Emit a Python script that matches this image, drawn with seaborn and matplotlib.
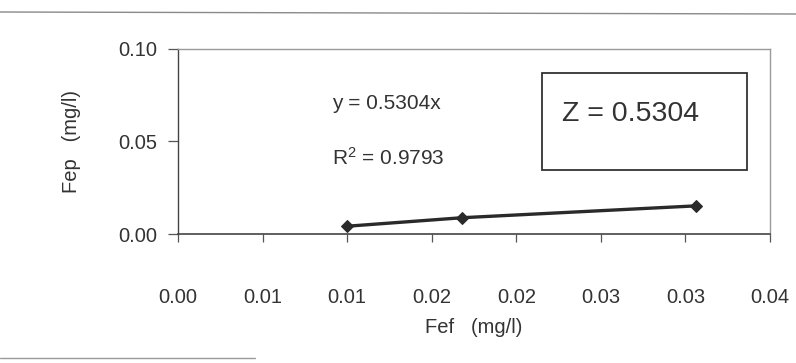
import matplotlib
matplotlib.use("Agg")
import matplotlib.pyplot as plt
import seaborn as sns
import pandas as pd
from matplotlib.patches import Rectangle
from matplotlib.lines import Line2D

# Data
fef = [0.0100, 0.0168, 0.0306]
fep = [0.0042, 0.0088, 0.0152]
x_ticks = [0.0, 0.005, 0.010, 0.015, 0.020, 0.025, 0.030, 0.035]
x_tick_labels = ["0.00", "0.01", "0.01", "0.02", "0.02", "0.03", "0.03", "0.04"]
y_ticks = [0.0, 0.05, 0.10]
y_tick_labels = ["0.00", "0.05", "0.10"]
equation = "y = 0.5304x"
r2_text = "R$^{2}$ = 0.9793"
z_text = "Z = 0.5304"

df = pd.DataFrame({"Fef": fef, "Fep": fep})

sns.set_theme(style="white")
plt.rcParams["font.family"] = ["Liberation Sans", "DejaVu Sans"]
plt.rcParams["mathtext.fontset"] = "custom"
plt.rcParams["mathtext.rm"] = "Liberation Sans"
plt.rcParams["mathtext.it"] = "Liberation Sans"
plt.rcParams["mathtext.default"] = "rm"

fig = plt.figure(figsize=(7.96, 3.63), dpi=100)
ax = fig.add_axes([178 / 796, 1 - 234 / 363, 592 / 796, 185 / 363])

sns.lineplot(data=df, x="Fef", y="Fep", ax=ax, color="#2a2a2a", linewidth=2.4,
             marker="D", markersize=6.5, markeredgecolor="#2a2a2a")

ax.set_xlim(0, 0.035)
ax.set_ylim(0, 0.10)
ax.set_xticks(x_ticks)
ax.set_xticklabels(x_tick_labels)
ax.set_yticks(y_ticks)
ax.set_yticklabels(y_tick_labels)

ax.tick_params(axis="x", direction="out", length=6, width=0.9, color="#555555",
               pad=33, labelsize=14.5, labelcolor="#333333", bottom=True)
ax.tick_params(axis="y", direction="out", length=7, width=0.9, color="#555555",
               pad=8, labelsize=14.5, labelcolor="#333333", left=True)

ax.set_xlabel("Fef   (mg/l)", fontsize=14.5, color="#333333", labelpad=8)
ax.set_ylabel("Fep   (mg/l)", fontsize=14.5, color="#333333", labelpad=27)

for side, col, lw in [("left", "#444444", 1.0), ("bottom", "#444444", 1.2),
                      ("top", "#9a9a9a", 1.0), ("right", "#9a9a9a", 1.0)]:
    ax.spines[side].set_visible(True)
    ax.spines[side].set_color(col)
    ax.spines[side].set_linewidth(lw)

ax.text(0.26, 0.708, equation, transform=ax.transAxes, ha="left", va="center",
        fontsize=15, color="#333333")
ax.text(0.26, 0.41, r2_text, transform=ax.transAxes, ha="left", va="center",
        fontsize=15, color="#333333")

ax.add_patch(Rectangle((0.615, 0.346), 0.346, 0.524, transform=ax.transAxes,
                       fill=False, edgecolor="#333333", linewidth=1.3))
ax.text(0.649, 0.649, z_text, transform=ax.transAxes, ha="left", va="center",
        fontsize=20.5, color="#333333")

# scan page lines
fig.add_artist(Line2D([0.0, 1.0], [1 - 12 / 363, 1 - 14 / 363], transform=fig.transFigure,
                      color="#8a8a8a", linewidth=1.0))
fig.add_artist(Line2D([0.0, 0.32], [1 - 358 / 363, 1 - 358 / 363], transform=fig.transFigure,
                      color="#9a9a9a", linewidth=1.0))

fig.savefig("out.png", dpi=100)
